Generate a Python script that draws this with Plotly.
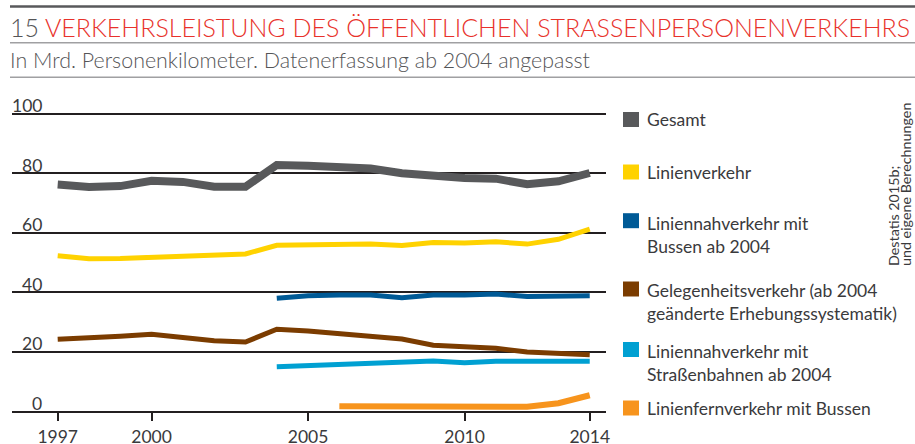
import plotly.graph_objects as go

# ---------------- data ----------------
years_all = list(range(1997, 2015))
years_2004 = list(range(2004, 2015))
years_2006 = list(range(2006, 2015))

gesamt = [76.1, 75.3, 75.6, 77.4, 77.0, 75.4, 75.4, 82.7, 82.4, 81.8, 81.5, 79.9, 78.8, 78.3, 78.1, 76.2, 77.2, 80.0]
linienverkehr = [52.2, 51.2, 51.3, 51.7, 52.1, 52.2, 52.8, 55.7, 55.9, 55.7, 56.1, 55.6, 56.6, 56.5, 56.9, 56.1, 57.7, 61.1]
nah_bussen = [37.9, 38.7, 39.0, 39.0, 38.1, 39.0, 39.0, 39.3, 38.5, 38.5, 38.7]
gelegenheit = [24.1, 24.4, 25.1, 25.8, 24.9, 23.6, 23.2, 27.5, 26.9, 26.1, 25.2, 24.2, 22.1, 21.6, 21.1, 19.8, 19.4, 18.9]
nah_bahn = [14.9, 15.2, 15.5, 15.9, 16.1, 16.8, 16.2, 16.7, 16.7, 16.7, 16.7]
fern_bussen = [1.6, 1.6, 1.6, 1.5, 1.4, 1.4, 1.4, 2.6, 5.3]

x_tickvals = [1997, 2000, 2005, 2010, 2014]
y_tickvals = [0, 20, 40, 60, 80, 100]

legend_labels = [
    "Gesamt",
    "Linienverkehr",
    "Liniennahverkehr mit<br>Bussen ab 2004",
    "Gelegenheitsverkehr (ab 2004<br>geänderte Erhebungssystematik)",
    "Liniennahverkehr mit<br>Straßenbahnen ab 2004",
    "Linienfernverkehr mit Bussen",
]

title_num = "15"
title_text = "VERKEHRSLEISTUNG DES ÖFFENTLICHEN STRASSENPERSONENVERKEHRS"
subtitle_text = "In Mrd. Personenkilometer. Datenerfassung ab 2004 angepasst"
source_lines = ["Destatis 2015b;", "und eigene Berechnungen"]

# ---------------- styles ----------------
colors = ["#58595b", "#ffd200", "#005a96", "#7b3c00", "#00a0d2", "#f7941d"]
widths = [8, 5, 5, 5, 5, 6]
FONT = "Lato, 'Noto Sans', sans-serif"
TXT = "#3a3a3c"
W, H = 915, 444
L, R_px, T, B_px = 12, 606, 100, 411  # plot area in pixels

series = [
    (years_all, gesamt),
    (years_all, linienverkehr),
    (years_2004, nah_bussen),
    (years_all, gelegenheit),
    (years_2004, nah_bahn),
    (years_2006, fern_bussen),
]

fig = go.Figure()
for (xs, ys), c, w, name in zip(series, colors, widths, legend_labels):
    fig.add_trace(go.Scatter(
        x=xs, y=ys, mode="lines", name=name.replace("<br>", " "),
        line=dict(color=c, width=w), showlegend=False, hoverinfo="x+y",
    ))

def px_x(px):
    return (px - L) / (R_px - L)

def px_y(py):
    return (B_px - py) / (B_px - T)

ymax = (B_px - T) / 2.975

shapes = []
annotations = []

# header rules
shapes.append(dict(type="line", xref="paper", yref="paper", x0=px_x(10), x1=px_x(916),
                   y0=px_y(6.5), y1=px_y(6.5), line=dict(color="#58595b", width=2.5)))
for py in (42.7, 77.3):
    shapes.append(dict(type="line", xref="paper", yref="paper", x0=px_x(10), x1=px_x(916),
                       y0=px_y(py), y1=px_y(py), line=dict(color="#a0a0a2", width=1.6)))

# title
annotations.append(dict(
    xref="paper", yref="paper", x=px_x(8), y=px_y(26.5), xanchor="left", yanchor="middle",
    showarrow=False,
    text=f"<span style='color:#555557'>{title_num} </span><span style='color:#e8322b'>{title_text}</span>",
    font=dict(family=FONT, size=25.0, weight=300),
))
# subtitle
annotations.append(dict(
    xref="paper", yref="paper", x=px_x(8), y=px_y(60), xanchor="left", yanchor="middle",
    showarrow=False, text=subtitle_text, font=dict(family=FONT, size=21.4, color="#555557", weight=300),
))

# y tick labels (above grid lines, right aligned)
for v in y_tickvals:
    annotations.append(dict(
        xref="paper", yref="y", x=px_x(44), y=v, xanchor="right", yanchor="bottom",
        yshift=-4.5, showarrow=False, text=str(v), font=dict(family=FONT, size=17.5, color=TXT),
    ))

# legend (manual)
sq_y = [119.5, 172, 220.7, 289, 349.5, 408]
txt_y = [119.3, 172.3, 222.7, 290, 350.7, 407.8]
for lab, c, sy, ty in zip(legend_labels, colors, sq_y, txt_y):
    shapes.append(dict(type="rect", xref="paper", yref="paper",
                       x0=px_x(623), x1=px_x(639), y0=px_y(sy + 7.5), y1=px_y(sy - 7.5),
                       fillcolor=c, line=dict(width=0)))
    annotations.append(dict(
        xref="paper", yref="paper", x=px_x(645), y=px_y(ty - 12), xanchor="left", yanchor="top",
        align="left", showarrow=False, text=lab, font=dict(family=FONT, size=17.5, color=TXT),
    ))

# source (rotated)
for line_txt, cx in zip(source_lines, (893.0, 905.5)):
    annotations.append(dict(
        xref="paper", yref="paper", x=px_x(cx), y=px_y(268), xanchor="center", yanchor="bottom",
        textangle=-90, showarrow=False, text=line_txt,
        font=dict(family=FONT, size=14.3, color=TXT),
    ))

fig.update_layout(
    width=W, height=H,
    margin=dict(l=L, r=W - R_px, t=T, b=H - B_px, autoexpand=False),
    paper_bgcolor="white", plot_bgcolor="white",
    showlegend=False,
    shapes=shapes, annotations=annotations,
    font=dict(family=FONT, color=TXT),
    xaxis=dict(
        range=[1995.54, 2014.52], tickvals=x_tickvals, ticktext=[str(v) for v in x_tickvals],
        showgrid=False, zeroline=False, showline=True, linecolor="#231f20", linewidth=2,
        ticks="outside", ticklen=8, tickwidth=2, tickcolor="#231f20",
        ticklabelstandoff=1, automargin=False,
        tickfont=dict(family=FONT, size=17.5, color=TXT),
    ),
    yaxis=dict(
        range=[0, ymax], tickvals=y_tickvals, showticklabels=False,
        showgrid=True, gridcolor="#231f20", gridwidth=2, zeroline=False,
        showline=False, ticks="", automargin=False,
    ),
)

fig.write_html("out.html", config={"displayModeBar": False},
               post_script="document.body.style.margin='0';")
